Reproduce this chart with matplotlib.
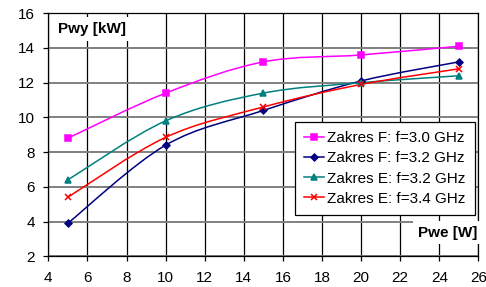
#!/usr/bin/env python3
"""Pwy vs Pwe curves for the F and E ranges"""
import matplotlib
matplotlib.use('Agg')
import matplotlib.pyplot as plt
import matplotlib.ticker as mticker
from matplotlib.path import Path
from matplotlib.patches import PathPatch
import numpy as np

plt.rcParams['font.family'] = ['Liberation Sans', 'DejaVu Sans']

# Data
pwe = [5, 10, 15, 20, 25]
f_30 = [8.8, 11.4, 13.2, 13.6, 14.1]
f_32 = [3.9, 8.4, 10.4, 12.1, 13.2]
e_32 = [6.4, 9.8, 11.4, 12.0, 12.4]
e_34 = [5.4, 8.85, 10.6, 11.9, 12.8]

labels = ['Zakres F: f=3.0 GHz', 'Zakres F: f=3.2 GHz',
          'Zakres E: f=3.2 GHz', 'Zakres E: f=3.4 GHz']
series = [f_30, f_32, e_32, e_34]
colors = ['#FF00FF', '#000080', '#008080', '#FF0000']
markers = ['s', 'D', '^', 'x']
msizes = [4.5, 3.5, 4.5, 5]


def smooth_path(xs, ys):
    # Excel-like smoothed line: cubic Bezier through the points
    xs = np.asarray(xs, float)
    ys = np.asarray(ys, float)
    n = len(xs)
    verts = [(xs[0], ys[0])]
    codes = [Path.MOVETO]
    for i in range(n - 1):
        p0 = (xs[max(i - 1, 0)], ys[max(i - 1, 0)])
        p1 = (xs[i], ys[i])
        p2 = (xs[i + 1], ys[i + 1])
        p3 = (xs[min(i + 2, n - 1)], ys[min(i + 2, n - 1)])
        c1 = (p1[0] + (p2[0] - p0[0]) / 6, p1[1] + (p2[1] - p0[1]) / 6)
        c2 = (p2[0] - (p3[0] - p1[0]) / 6, p2[1] - (p3[1] - p1[1]) / 6)
        verts += [c1, c2, p2]
        codes += [Path.CURVE4] * 3
    return Path(verts, codes)


fig = plt.figure(figsize=(4.86, 2.87), dpi=100)
ax = fig.add_axes([0.0994, 0.1073, 0.8850, 0.8464])

for ys, lab, c, m, ms in zip(series, labels, colors, markers, msizes):
    ax.add_patch(PathPatch(smooth_path(pwe, ys), facecolor='none',
                           edgecolor=c, lw=1.1, zorder=3))
    ax.plot(pwe, ys, linestyle='none', marker=m, color=c, markersize=ms,
            markeredgewidth=1.1, zorder=4)
    # legend proxy
    ax.plot([], [], color=c, marker=m, markersize=ms, lw=1.1,
            markeredgewidth=1.1, label=lab)

ax.set_xlim(4, 26)
ax.set_ylim(2, 16)
ax.xaxis.set_major_locator(mticker.MultipleLocator(2))
ax.yaxis.set_major_locator(mticker.MultipleLocator(2))

# grid: black verticals, gray horizontals
ax.grid(True, axis='x', color='black', lw=0.9, zorder=1)
ax.grid(True, axis='y', color='#808080', lw=1.4, zorder=1)
ax.set_axisbelow(True)

for s in ax.spines.values():
    s.set_color('black')
    s.set_linewidth(0.9)
ax.tick_params(direction='out', length=3.5, width=0.9, labelsize=11,
               colors='black')
ax.tick_params(axis='x', pad=7)
ax.tick_params(axis='y', pad=6)

# axis titles as boxed text inside the plot
ax.text(4.5, 15.1, 'Pwy [kW]', fontsize=11, fontweight='bold',
        ha='left', va='center', zorder=6,
        bbox=dict(boxstyle='square,pad=0.35', facecolor='white',
                  edgecolor='none'))
ax.text(25.95, 3.35, 'Pwe [W]', fontsize=11, fontweight='bold',
        ha='right', va='center', zorder=6, clip_on=False,
        bbox=dict(boxstyle='square,pad=0.3', facecolor='white',
                  edgecolor='none'))

leg = ax.legend(loc='upper right', bbox_to_anchor=(0.992, 0.552),
                fontsize=11, frameon=True, fancybox=False, framealpha=1,
                edgecolor='black', handlelength=1.3, handletextpad=0.25,
                labelspacing=0.4, borderpad=0.6, borderaxespad=0)
leg.get_frame().set_linewidth(0.9)
leg.set_zorder(7)

plt.savefig('out.png', dpi=100)
